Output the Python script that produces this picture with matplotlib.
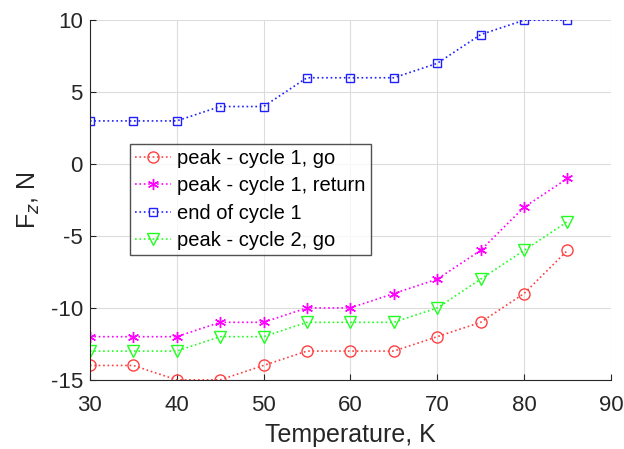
import matplotlib
matplotlib.use("Agg")
import matplotlib.pyplot as plt

temperature = [30, 35, 40, 45, 50, 55, 60, 65, 70, 75, 80, 85]
peak_c1_go = [-14, -14, -15, -15, -14, -13, -13, -13, -12, -11, -9, -6]
peak_c1_return = [-12, -12, -12, -11, -11, -10, -10, -9, -8, -6, -3, -1]
end_c1 = [3, 3, 3, 4, 4, 6, 6, 6, 7, 9, 10, 10]
peak_c2_go = [-13, -13, -13, -12, -12, -11, -11, -11, -10, -8, -6, -4]

labels = ["peak - cycle 1, go", "peak - cycle 1, return", "end of cycle 1", "peak - cycle 2, go"]
series = [peak_c1_go, peak_c1_return, end_c1, peak_c2_go]
colors = ["#ff4040", "#ff00ff", "#2020ff", "#20ff20"]
markers = ["o", (6, 2, 0), "s", "v"]
sizes = [8, 8, 6, 8]

plt.rcParams["font.family"] = ["Liberation Sans", "DejaVu Sans"]
plt.rcParams["axes.unicode_minus"] = False

fig = plt.figure(figsize=(6.24, 4.49), dpi=100)
ax = fig.add_axes([0.144, 0.154, 0.835, 0.801])

for vals, lab, c, m, s in zip(series, labels, colors, markers, sizes):
    ax.plot(temperature, vals, linestyle=":", color=c, marker=m, markersize=s,
            markerfacecolor="none", markeredgecolor=c, markeredgewidth=1.0,
            linewidth=1.2, label=lab)

ax.set_xlim(30, 90)
ax.set_ylim(-15, 10)
ax.set_xticks(range(30, 91, 10))
ax.set_yticks(range(-15, 11, 5))
ax.grid(True, color="#dcdcdc", linewidth=0.8)
ax.set_axisbelow(True)
for side in ["top", "right"]:
    ax.spines[side].set_visible(False)
for side in ["left", "bottom"]:
    ax.spines[side].set_color("#262626")
ax.tick_params(labelsize=16, direction="in", length=4, colors="#262626")
ax.tick_params(axis="x", pad=11)
ax.tick_params(axis="y", pad=5)
ax.set_xlabel("Temperature, K", fontsize=18, color="#262626", labelpad=5)
ax.set_ylabel("F$_z$, N", fontsize=18, color="#262626", labelpad=6)

leg = ax.legend(loc="upper left", bbox_to_anchor=(0.077, 0.656), fontsize=14.5,
                frameon=True, fancybox=False, edgecolor="#262626",
                handlelength=1.8, handletextpad=0.3, borderpad=0.25, labelspacing=0.42,
                borderaxespad=0)
leg.get_frame().set_linewidth(1.0)

fig.savefig("out.png", dpi=100)
